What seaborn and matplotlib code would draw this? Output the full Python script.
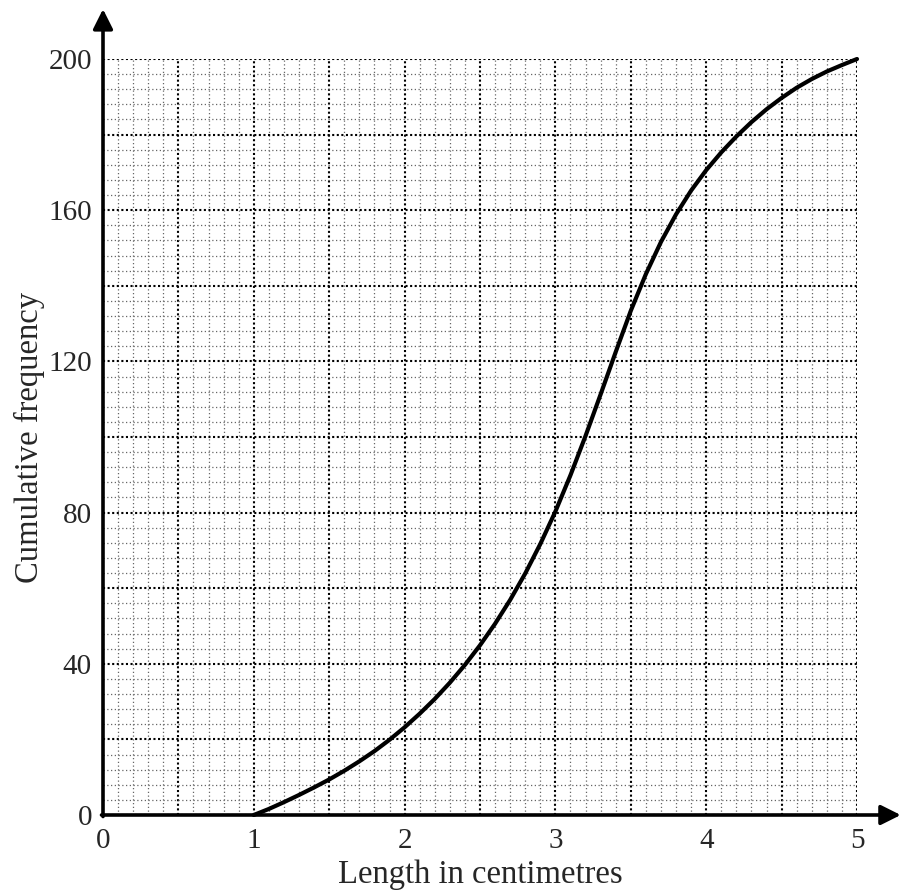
import numpy as np
import pandas as pd
import matplotlib
matplotlib.use("Agg")
import matplotlib.pyplot as plt
import seaborn as sns

# values
length_cm = [1.0, 1.1, 1.2, 1.3, 1.4, 1.5, 1.6, 1.7, 1.8, 1.9,
             2.0, 2.1, 2.2, 2.3, 2.4, 2.5, 2.6, 2.7, 2.8, 2.9,
             3.0, 3.1, 3.2, 3.3, 3.4, 3.5, 3.6, 3.7, 3.8, 3.9,
             4.0, 4.1, 4.2, 4.3, 4.4, 4.5, 4.6, 4.7, 4.8, 4.9, 5.0]
cum_freq = [0, 1.6, 3.4, 5.3, 7.3, 9.4, 11.7, 14.2, 16.9, 19.9,
            23.2, 26.8, 30.7, 35.0, 39.7, 44.9, 50.6, 56.9, 63.9, 71.7,
            80.3, 89.9, 100.3, 111.3, 122.5, 133.4, 143.1, 151.6, 158.9, 165.2,
            170.6, 175.3, 179.5, 183.3, 186.7, 189.7, 192.4, 194.7, 196.7, 198.4, 200]
x_labels = ["0", "1", "2", "3", "4", "5"]
y_labels = ["0", "40", "80", "120", "160", "200"]

df = pd.DataFrame({"length": length_cm, "cf": cum_freq})

sns.set_style("white")
plt.rcParams["font.family"] = ["Liberation Serif", "DejaVu Serif"]

fig = plt.figure(figsize=(9.02, 8.94), dpi=100)
ax = fig.add_axes([103/902, 79/894, 754/902, 756/894])

ax.set_xlim(0, 5)
ax.set_ylim(0, 200)

# graph paper grid
ax.set_xticks(np.arange(0, 5.01, 0.5))
ax.set_yticks(np.arange(0, 200.1, 20))
ax.set_xticks(np.arange(0, 5.01, 0.1), minor=True)
ax.set_yticks(np.arange(0, 200.1, 4), minor=True)
ax.set_xticklabels([x_labels[int(t)] if t % 1 == 0 else "" for t in np.arange(0, 5.01, 0.5)])
ax.set_yticklabels([y_labels[int(t // 40)] if t % 40 == 0 else "" for t in np.arange(0, 200.1, 20)])
ax.grid(which="minor", color="#666666", linestyle=(0, (1, 2)), linewidth=0.9)
ax.grid(which="major", color="black", linestyle=(0, (1, 1.2)), linewidth=1.5)
ax.set_axisbelow(True)
ax.tick_params(which="both", length=0, labelsize=21)
ax.tick_params(axis="x", pad=9)
ax.tick_params(axis="y", pad=8)

sns.lineplot(data=df, x="length", y="cf", color="black", linewidth=3.0, ax=ax,
             zorder=5, clip_on=False)

for s in ax.spines.values():
    s.set_visible(False)

# axes with arrow heads
arrow = dict(arrowstyle="-|>", color="black", lw=2.6, mutation_scale=30,
             shrinkA=0, shrinkB=0)
ax.annotate("", xy=(1.058, 0), xytext=(-0.002, 0), xycoords="axes fraction",
            arrowprops=arrow, annotation_clip=False, zorder=6)
ax.annotate("", xy=(0, 1.066), xytext=(0, -0.002), xycoords="axes fraction",
            arrowprops=arrow, annotation_clip=False, zorder=6)

ax.set_xlabel("Length in centimetres", fontsize=23.5, labelpad=4)
ax.set_ylabel("Cumulative frequency", fontsize=23.5, labelpad=2)

plt.savefig("out.png", dpi=100)
